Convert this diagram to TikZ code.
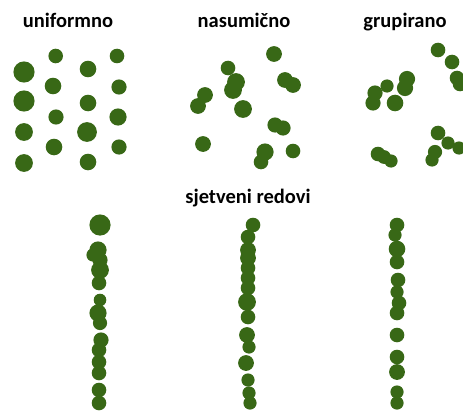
\documentclass[tikz,border=0pt]{standalone}
\usepackage{fontspec}
\setmainfont{Carlito}
\definecolor{leaf}{RGB}{56,104,22}
\tikzset{title/.style={font=\bfseries\fontsize{20.5}{24}\selectfont, anchor=base, inner sep=0pt}}
\newcommand{\pl}[3]{\fill[leaf] (#1,#2) circle[radius={#3+0.6}];}
\begin{document}
\begin{tikzpicture}[x=1pt,y=-1pt]
\useasboundingbox (0,0) rectangle (463,412);
\clip (0,0) rectangle (463,412);
\fill[white] (0,0) rectangle (463,412);
% titles
\node[title] (t1) at (68,28) {uniformno};
\node[title] (t2) at (244,28) {nasumično};
\node[title] (t3) at (405,28) {grupirano};
\node[title] (t4) at (248,203) {sjetveni redovi};
% uniform
\pl{55.7}{56}{6.7}
\pl{117}{56}{6.7}
\pl{24}{72}{10}
\pl{88}{69}{7.7}
\pl{53}{86}{7.7}
\pl{119}{87}{7}
\pl{24}{101}{10}
\pl{88}{103}{7.7}
\pl{56}{117}{7}
\pl{118}{117}{8}
\pl{24}{132}{8.3}
\pl{87}{132}{9.3}
\pl{54}{147}{7.7}
\pl{119}{147}{7}
\pl{24}{163}{8.3}
\pl{88}{162}{7.7}
% random
\pl{274}{54}{7.3}
\pl{228}{68}{6.7}
\pl{236}{82}{8.3}
\pl{233}{90}{8.3}
\pl{285}{80}{7.3}
\pl{293}{85}{7.3}
\pl{205}{95}{7.3}
\pl{198}{106}{7.3}
\pl{243}{109}{8.3}
\pl{275}{125}{7}
\pl{283}{128}{7}
\pl{203}{144}{7.3}
\pl{265}{152}{8}
\pl{261}{162}{6.7}
\pl{293}{151}{6.7}
% clustered
\pl{438}{50}{6.7}
\pl{452}{62}{6.7}
\pl{457}{78}{6.7}
\pl{460}{84}{6.7}
\pl{387}{86}{6}
\pl{407}{79}{7.5}
\pl{405}{88}{7.5}
\pl{375}{93}{7}
\pl{373}{103}{7}
\pl{395}{103}{7.7}
\pl{438}{133}{6.7}
\pl{448}{143}{6}
\pl{459}{148}{6}
\pl{435}{152}{6.5}
\pl{432}{160}{6}
\pl{378}{154}{6.7}
\pl{384}{157}{6.3}
\pl{391}{161}{6}
% row 1
\pl{100}{225}{10}
\pl{98}{250}{8}
\pl{93}{255}{6}
\pl{100}{260}{7}
\pl{100}{270}{8.3}
\pl{99}{283}{6.7}
\pl{100}{300}{5.7}
\pl{98}{313}{8}
\pl{100}{323}{6.5}
\pl{101}{340}{7}
\pl{99}{350}{6.7}
\pl{99}{362}{6.7}
\pl{99}{373}{6.7}
\pl{99}{390}{6.7}
\pl{99}{403}{6.7}
% row 2
\pl{253}{225}{6.7}
\pl{248}{237}{6.7}
\pl{248}{250}{7.3}
\pl{248}{258}{7.3}
\pl{248}{268}{6.7}
\pl{248}{278}{6.7}
\pl{248}{288}{6.7}
\pl{247}{302}{8.3}
\pl{248}{317}{6.7}
\pl{247}{335}{7.3}
\pl{249}{347}{6}
\pl{246}{363}{7.3}
\pl{248}{380}{6}
\pl{249}{393}{6}
\pl{250}{403}{6}
% row 3
\pl{397}{225}{6.7}
\pl{395}{235}{6}
\pl{397}{249}{7.7}
\pl{397}{262}{6.7}
\pl{398}{280}{6.7}
\pl{397}{292}{6}
\pl{399}{303}{6.7}
\pl{397}{313}{6.7}
\pl{397}{335}{6.7}
\pl{397}{357}{6.7}
\pl{397}{372}{7.3}
\pl{397}{392}{6}
\pl{397}{403}{6}
\end{tikzpicture}
\end{document}
